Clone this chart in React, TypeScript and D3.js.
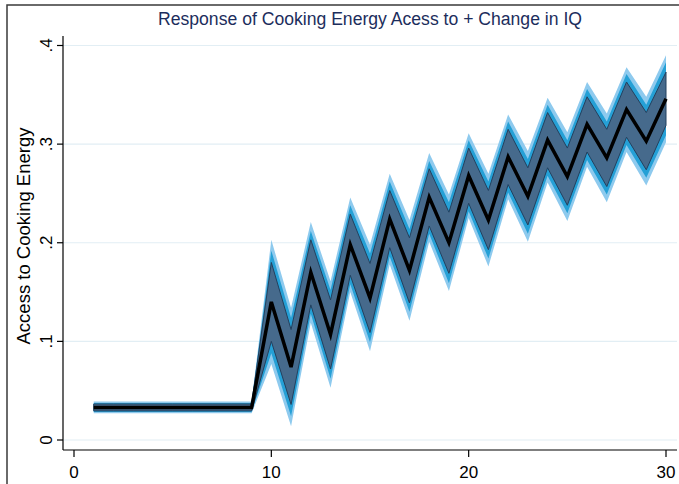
import React from "react";
import * as d3 from "d3";

const steps = [1,2,3,4,5,6,7,8,9,10,11,12,13,14,15,16,17,18,19,20,21,22,23,24,25,26,27,28,29,30];
const response = [0.033,0.033,0.033,0.033,0.033,0.033,0.033,0.033,0.033,0.140,0.074,0.170,0.107,0.198,0.144,0.224,0.172,0.246,0.200,0.268,0.223,0.287,0.247,0.304,0.267,0.320,0.286,0.335,0.303,0.346];
const halfOuter = [0.006,0.006,0.006,0.006,0.006,0.006,0.006,0.006,0.006,0.063,0.060,0.051,0.054,0.048,0.054,0.046,0.051,0.045,0.049,0.043,0.047,0.043,0.046,0.043,0.045,0.043,0.045,0.043,0.045,0.044];
const halfMid = [0.0045,0.0045,0.0045,0.0045,0.0045,0.0045,0.0045,0.0045,0.0045,0.052,0.050,0.042,0.045,0.040,0.045,0.038,0.042,0.037,0.041,0.036,0.039,0.036,0.038,0.036,0.037,0.036,0.037,0.036,0.037,0.037];
const halfInner = [0.0035,0.0035,0.0035,0.0035,0.0035,0.0035,0.0035,0.0035,0.0035,0.040,0.038,0.033,0.035,0.031,0.035,0.029,0.033,0.029,0.031,0.028,0.030,0.028,0.029,0.028,0.029,0.028,0.029,0.028,0.029,0.027];
const xTicks = [0, 10, 20, 30];
const yTicks = [0, 0.1, 0.2, 0.3, 0.4];
const yTickLabels = ["0", ".1", ".2", ".3", ".4"];
const title = "Response of Cooking Energy Acess to + Change in IQ";
const yTitle = "Access to Cooking Energy";

export default function App() {
  const W = 679, H = 484;
  const plotLeft = 63, plotRight = 677, axisY = 450;
  const x = d3.scaleLinear().domain([0, 30]).range([74, 666]);
  const y = d3.scaleLinear().domain([0, 0.4]).range([440, 45.5]);
  const idx = steps.map((_, i) => i);
  const band = (hw: number[]) =>
    d3.area<number>()
      .x((i) => x(steps[i]))
      .y0((i) => y(response[i] - hw[i]))
      .y1((i) => y(response[i] + hw[i]))(idx) || "";
  const line = d3.line<number>().x((i) => x(steps[i])).y((i) => y(response[i]))(idx) || "";
  const font = "'Liberation Sans', Arial, Helvetica, sans-serif";
  return (
    <svg width={W} height={H} style={{ position: "absolute", left: 0, top: 0, background: "#fff" }} fontFamily={font}>
      <rect x={0} y={0} width={W} height={H} fill="#fff" />
      <path d={`M7,${H} V5 H${W}`} fill="none" stroke="#3a3a3a" strokeWidth={1.5} />
      <text x={370} y={25} textAnchor="middle" fontSize={17.6} fill="#1c2d5c">{title}</text>
      {yTicks.map((t) => (
        <line key={"g" + t} x1={plotLeft} x2={plotRight} y1={y(t)} y2={y(t)} stroke="#e2eef4" strokeWidth={1.2} />
      ))}
      <path d={band(halfOuter)} fill="#8ecaee" />
      <path d={band(halfMid)} fill="#25a0d6" />
      <path d={band(halfInner)} fill="#466a8c" stroke="#23405e" strokeWidth={1} />
      <path d={line} fill="none" stroke="#000" strokeWidth={3.5} strokeLinejoin="miter" />
      <line x1={plotLeft} x2={plotLeft} y1={36} y2={axisY} stroke="#000" strokeWidth={1.2} />
      <line x1={plotLeft} x2={plotRight} y1={axisY} y2={axisY} stroke="#000" strokeWidth={1.2} />
      {yTicks.map((t, i) => (
        <g key={"y" + t}>
          <line x1={plotLeft - 6} x2={plotLeft} y1={y(t)} y2={y(t)} stroke="#000" strokeWidth={1.2} />
          <text transform={`translate(52,${y(t)}) rotate(-90)`} textAnchor="middle" fontSize={17} fill="#000">{yTickLabels[i]}</text>
        </g>
      ))}
      {xTicks.map((t) => (
        <g key={"x" + t}>
          <line x1={x(t)} x2={x(t)} y1={axisY} y2={axisY + 7} stroke="#000" strokeWidth={1.2} />
          <text x={x(t)} y={478} textAnchor="middle" fontSize={17} fill="#000">{t}</text>
        </g>
      ))}
      <text transform="translate(30,236) rotate(-90)" textAnchor="middle" fontSize={18.5} fill="#000">{yTitle}</text>
    </svg>
  );
}
